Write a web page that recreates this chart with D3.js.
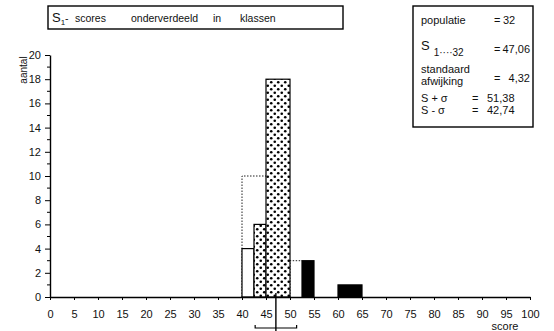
<!DOCTYPE html>
<html>
<head>
<meta charset="utf-8">
<script src="https://cdn.jsdelivr.net/npm/d3@7"></script>
<style>
  body { margin: 0; background: #fff; }
  svg { font-family: "Liberation Sans", Arial, sans-serif; }
  text { fill: #111; }
</style>
</head>
<body>
<div id="chart"></div>
<script>
// klassen (breedte 2,5 of 5)
var binStart = [40, 42.5, 45, 52.5, 60];
var binEnd   = [42.5, 45, 50, 55, 65];
var binCount = [4, 6, 18, 3, 1];
var binStyle = ["open", "dots", "dots", "black", "black"];

// gestippelde omtrek (klassen van 5)
var coarseStart = [40, 50];
var coarseEnd   = [45, 52.5];
var coarseCount = [10, 3];

var xTicks = d3.range(0, 101, 5);
var yTicks = d3.range(0, 21, 2);
var yMinor = d3.range(0, 21, 1);

var mean = 47.06, sd = 4.32;
var titleWords = ["-", "scores", "onderverdeeld", "in", "klassen"];
var statLabels = ["populatie", "S", "standaard", "afwijking", "S + σ", "S - σ"];
var statValues = ["32", "47,06", "4,32", "51,38", "42,74"];

var width = 554, height = 331;
var x = d3.scaleLinear().domain([0, 100]).range([50, 530]);
var y = d3.scaleLinear().domain([0, 20]).range([297, 55]);

var svg = d3.select("#chart").append("svg")
  .attr("width", width).attr("height", height);

var defs = svg.append("defs");
var pat = defs.append("pattern")
  .attr("id", "dots").attr("patternUnits", "userSpaceOnUse")
  .attr("width", 7).attr("height", 7);
pat.append("rect").attr("width", 7).attr("height", 7).attr("fill", "#fff");
pat.append("circle").attr("cx", 1.75).attr("cy", 1.75).attr("r", 1.3).attr("fill", "#000");
pat.append("circle").attr("cx", 5.25).attr("cy", 5.25).attr("r", 1.3).attr("fill", "#000");

// gestippelde klassen
var coarse = svg.append("g").attr("class", "coarse");
coarseStart.forEach(function (s, i) {
  coarse.append("path")
    .attr("d", "M" + x(s) + "," + y(0) + "V" + y(coarseCount[i]) + "H" + x(coarseEnd[i]))
    .attr("fill", "none").attr("stroke", "#222").attr("stroke-width", 1)
    .attr("stroke-dasharray", "1.5,1.5");
});

// staven
svg.append("g").selectAll("rect")
  .data(binStart)
  .enter().append("rect")
  .attr("x", function (d) { return x(d); })
  .attr("y", function (d, i) { return y(binCount[i]); })
  .attr("width", function (d, i) { return x(binEnd[i]) - x(d); })
  .attr("height", function (d, i) { return y(0) - y(binCount[i]); })
  .attr("fill", function (d, i) {
    return binStyle[i] == "black" ? "#000" : binStyle[i] == "dots" ? "url(#dots)" : "#fff";
  })
  .attr("stroke", "#000").attr("stroke-width", 1.2);

// x-as
var xAxis = svg.append("g")
  .attr("transform", "translate(0," + y(0) + ")")
  .call(d3.axisBottom(x).tickValues(xTicks).tickSize(3).tickSizeOuter(0).tickPadding(10));
xAxis.select(".domain").attr("stroke-width", 1.4);
xAxis.selectAll("text").style("font-size", "11px");

// y-as
var yAxis = svg.append("g")
  .attr("transform", "translate(" + x(0) + ",0)")
  .call(d3.axisLeft(y).tickValues(yTicks).tickSize(5).tickSizeOuter(0).tickPadding(4));
yAxis.select(".domain").attr("stroke-width", 1.4);
yAxis.selectAll("text").style("font-size", "11px");
svg.append("g").selectAll("line")
  .data(yMinor.filter(function (d) { return d % 2; }))
  .enter().append("line")
  .attr("x1", x(0) - 3).attr("x2", x(0))
  .attr("y1", function (d) { return y(d); }).attr("y2", function (d) { return y(d); })
  .attr("stroke", "#000");

svg.append("text")
  .attr("transform", "translate(27,70) rotate(-90)")
  .attr("text-anchor", "middle")
  .style("font-size", "10px")
  .text("aantal");

svg.append("text")
  .attr("x", 505).attr("y", 330)
  .attr("text-anchor", "middle")
  .style("font-size", "11px")
  .text("score");

// gemiddelde en spreiding
svg.append("line")
  .attr("x1", x(mean)).attr("x2", x(mean))
  .attr("y1", y(0) - 4).attr("y2", 331)
  .attr("stroke", "#000").attr("stroke-width", 1.4);
var by = 328;
svg.append("path")
  .attr("d", "M" + x(mean - sd) + "," + (by - 3) + "V" + by + "H" + x(mean + sd) + "V" + (by - 3))
  .attr("fill", "none").attr("stroke", "#000").attr("stroke-width", 1.2);

// titel
svg.append("rect")
  .attr("x", 48).attr("y", 6).attr("width", 295).attr("height", 23)
  .attr("fill", "none").attr("stroke", "#000").attr("stroke-width", 1.4);
var tg = svg.append("g").style("font-size", "10.5px");
var s0 = tg.append("text").attr("x", 52).attr("y", 22).style("font-size", "13px").text("S");
s0.append("tspan").attr("dy", 3).style("font-size", "8px").text("1");
var titleX = [65, 75, 131, 213, 240];
titleWords.forEach(function (w, i) {
  tg.append("text").attr("x", titleX[i]).attr("y", 22).text(w);
});

// statistiek
svg.append("rect")
  .attr("x", 413).attr("y", 6).attr("width", 120).attr("height", 121)
  .attr("fill", "none").attr("stroke", "#000").attr("stroke-width", 1.4);
var st = svg.append("g").style("font-size", "11px");
st.append("text").attr("x", 421).attr("y", 24).text(statLabels[0]);
var s1 = st.append("text").attr("x", 421).attr("y", 50).style("font-size", "13px").text(statLabels[1]);
s1.append("tspan").attr("dy", 6).attr("dx", 4).style("font-size", "10px").text("1····32");
st.append("text").attr("x", 421).attr("y", 73).text(statLabels[2]);
st.append("text").attr("x", 421).attr("y", 85).text(statLabels[3]);
st.append("text").attr("x", 421).attr("y", 102).text(statLabels[4]);
st.append("text").attr("x", 421).attr("y", 114).text(statLabels[5]);
var eqX = [494, 494, 494, 472, 472];
var valX = [503, 530, 530, 487, 487];
var valY = [24, 53, 82, 102, 114];
statValues.forEach(function (v, i) {
  st.append("text").attr("x", eqX[i]).attr("y", valY[i]).text("=");
  st.append("text").attr("x", valX[i]).attr("y", valY[i])
    .attr("text-anchor", i == 1 || i == 2 ? "end" : "start").text(v);
});
</script>
</body>
</html>
